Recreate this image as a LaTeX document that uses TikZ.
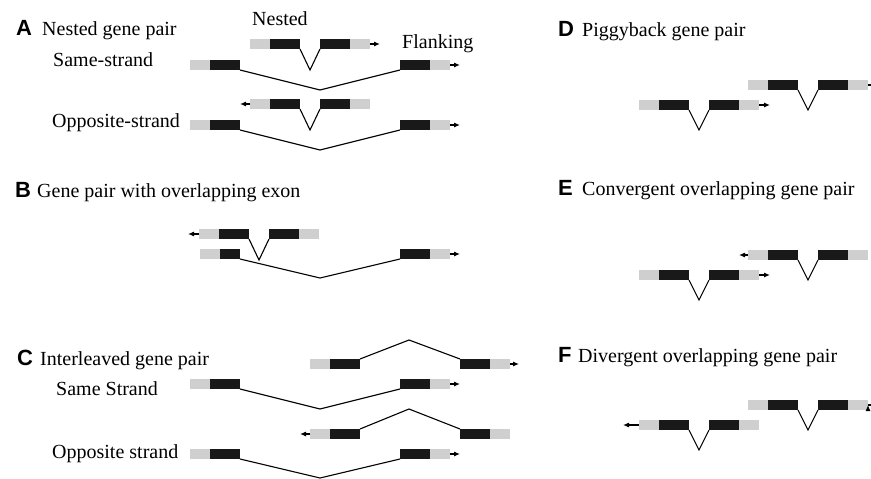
\documentclass[tikz,border=0pt]{standalone}
\usepackage{fontspec}
\setmainfont{Liberation Serif}
\setsansfont{Liberation Sans}
\usepackage{tikz}
\usetikzlibrary{positioning, arrows.meta}

\begin{document}
\begin{tikzpicture}[
        x=1pt, y=-1pt, % pixel grid, y pointing down
        % --- Gene parts ---
        exon/.style={fill=black!90, minimum width=30pt, minimum height=10pt,
            inner sep=0pt, outer sep=0pt, anchor=west},
        utr/.style={fill=gray!38, minimum width=20pt, minimum height=10pt,
            inner sep=0pt, outer sep=0pt, anchor=west},
        intron/.style={draw, line width=1.1pt},
        tss/.style={draw, line width=1.1pt, -{Latex[length=6pt, width=5pt]}},
        % --- Text ---
        title/.style={font=\fontsize{20}{24}\selectfont, anchor=base west, inner sep=0pt},
        letter/.style={font=\fontsize{22}{26}\selectfont\sffamily\bfseries, anchor=base west, inner sep=0pt}
    ]
    \path[use as bounding box] (0,0) rectangle (871,479);
    \clip (0,0) rectangle (871,479);

    % ==================== TITLES ====================
    \node[letter] (lA) at (16,35)  {A};
    \node[title]  (tA) at (42,35)  {Nested gene pair};
    \node[title]  (sA) at (53,66)  {Same-strand};
    \node[title]  (oA) at (52,127) {Opposite-strand};
    \node[title]  (nested)   at (252,25) {Nested};
    \node[title]  (flanking) at (402,48) {Flanking};

    \node[letter] (lB) at (15,197) {B};
    \node[title]  (tB) at (37,197) {Gene pair with overlapping exon};

    \node[letter] (lC) at (17,365) {C};
    \node[title]  (tC) at (40,365) {Interleaved gene pair};
    \node[title]  (sC) at (56,395) {Same Strand};
    \node[title]  (oC) at (52,458) {Opposite strand};

    \node[letter] (lD) at (558,36)  {D};
    \node[title]  (tD) at (582,36)  {Piggyback gene pair};
    \node[letter] (lE) at (558,195) {E};
    \node[title]  (tE) at (582,195) {Convergent overlapping gene pair};
    \node[letter] (lF) at (558,362) {F};
    \node[title]  (tF) at (578,362) {Divergent overlapping gene pair};

    % ==================== A. NESTED ====================
    \node[utr] (a1u1) at (250,44) {};  \node[exon, right=0pt of a1u1] (a1e1) {};
    \node[exon, right=20pt of a1e1] (a1e2) {};  \node[utr, right=0pt of a1e2] (a1u2) {};
    \node[utr] (a2u1) at (190,65) {};  \node[exon, right=0pt of a2u1] (a2e1) {};
    \node[exon, right=160pt of a2e1] (a2e2) {};  \node[utr, right=0pt of a2e2] (a2u2) {};
    \node[utr] (a3u1) at (250,104) {}; \node[exon, right=0pt of a3u1] (a3e1) {};
    \node[exon, right=20pt of a3e1] (a3e2) {};  \node[utr, right=0pt of a3e2] (a3u2) {};
    \node[utr] (a4u1) at (190,125) {}; \node[exon, right=0pt of a4u1] (a4e1) {};
    \node[exon, right=160pt of a4e1] (a4e2) {};  \node[utr, right=0pt of a4e2] (a4u2) {};

    % ==================== B. OVERLAPPING EXON ====================
    \node[utr] (b1u1) at (199,234) {}; \node[exon, right=0pt of b1u1] (b1e1) {};
    \node[exon, right=20pt of b1e1] (b1e2) {};  \node[utr, right=0pt of b1e2] (b1u2) {};
    \node[utr] (b2u1) at (200,254) {}; \node[exon, minimum width=20pt, right=0pt of b2u1] (b2e1) {};
    \node[exon, right=160pt of b2e1] (b2e2) {};  \node[utr, right=0pt of b2e2] (b2u2) {};

    % ==================== C. INTERLEAVED ====================
    \node[utr] (c1u1) at (310,364) {}; \node[exon, right=0pt of c1u1] (c1e1) {};
    \node[exon, right=100pt of c1e1] (c1e2) {}; \node[utr, right=0pt of c1e2] (c1u2) {};
    \node[utr] (c2u1) at (190,384) {}; \node[exon, right=0pt of c2u1] (c2e1) {};
    \node[exon, right=160pt of c2e1] (c2e2) {}; \node[utr, right=0pt of c2e2] (c2u2) {};
    \node[utr] (c3u1) at (310,434) {}; \node[exon, right=0pt of c3u1] (c3e1) {};
    \node[exon, right=100pt of c3e1] (c3e2) {}; \node[utr, right=0pt of c3e2] (c3u2) {};
    \node[utr] (c4u1) at (190,454) {}; \node[exon, right=0pt of c4u1] (c4e1) {};
    \node[exon, right=160pt of c4e1] (c4e2) {}; \node[utr, right=0pt of c4e2] (c4u2) {};

    % ==================== D, E, F ====================
    \node[utr] (d1u1) at (639,105) {}; \node[exon, right=0pt of d1u1] (d1e1) {};
    \node[exon, right=20pt of d1e1] (d1e2) {};  \node[utr, right=0pt of d1e2] (d1u2) {};
    \node[utr] (d2u1) at (748,85) {};  \node[exon, right=0pt of d2u1] (d2e1) {};
    \node[exon, right=20pt of d2e1] (d2e2) {};  \node[utr, right=0pt of d2e2] (d2u2) {};
    \node[utr] (e1u1) at (639,275) {}; \node[exon, right=0pt of e1u1] (e1e1) {};
    \node[exon, right=20pt of e1e1] (e1e2) {};  \node[utr, right=0pt of e1e2] (e1u2) {};
    \node[utr] (e2u1) at (748,255) {}; \node[exon, right=0pt of e2u1] (e2e1) {};
    \node[exon, right=20pt of e2e1] (e2e2) {};  \node[utr, right=0pt of e2e2] (e2u2) {};
    \node[utr] (f1u1) at (639,425) {}; \node[exon, right=0pt of f1u1] (f1e1) {};
    \node[exon, right=20pt of f1e1] (f1e2) {};  \node[utr, right=0pt of f1e2] (f1u2) {};
    \node[utr] (f2u1) at (748,405) {}; \node[exon, right=0pt of f2u1] (f2e1) {};
    \node[exon, right=20pt of f2e1] (f2e2) {};  \node[utr, right=0pt of f2e2] (f2u2) {};

    % Intron bends and arrow ends
    \coordinate (a1v) at (310,70);  \coordinate (a1t) at (380,44);
    \coordinate (a2v) at (320,90);  \coordinate (a2t) at (460,65);
    \coordinate (a3v) at (310,130); \coordinate (a3t) at (240,104);
    \coordinate (a4v) at (320,150); \coordinate (a4t) at (460,125);
    \coordinate (b1v) at (259,260); \coordinate (b1t) at (188,234);
    \coordinate (b2v) at (320,278); \coordinate (b2t) at (460,254);
    \coordinate (c1v) at (409,340); \coordinate (c1t) at (519,364);
    \coordinate (c2v) at (320,409); \coordinate (c2t) at (460,384);
    \coordinate (c3v) at (409,409); \coordinate (c3t) at (300,434);
    \coordinate (c4v) at (320,478); \coordinate (c4t) at (460,454);
    \coordinate (d1v) at (699,130); \coordinate (d1t) at (770,105);
    \coordinate (d2v) at (808,110); \coordinate (d2t) at (886,85);
    \coordinate (e1v) at (699,300); \coordinate (e1t) at (770,275);
    \coordinate (e2v) at (808,280); \coordinate (e2t) at (739,255);
    \coordinate (f1v) at (699,450); \coordinate (f1t) at (623,425);
    \coordinate (f2v) at (808,430); \coordinate (f2t) at (886,405);

    % Introns
    \draw[intron] (a1e1.south east) -- (a1v) -- (a1e2.south west);
    \draw[intron] (a2e1.south east) -- (a2v) -- (a2e2.south west);
    \draw[intron] (a3e1.south east) -- (a3v) -- (a3e2.south west);
    \draw[intron] (a4e1.south east) -- (a4v) -- (a4e2.south west);
    \draw[intron] (b1e1.south east) -- (b1v) -- (b1e2.south west);
    \draw[intron] (b2e1.south east) -- (b2v) -- (b2e2.south west);
    \draw[intron] (c1e1.north east) -- (c1v) -- (c1e2.north west);
    \draw[intron] (c2e1.south east) -- (c2v) -- (c2e2.south west);
    \draw[intron] (c3e1.north east) -- (c3v) -- (c3e2.north west);
    \draw[intron] (c4e1.south east) -- (c4v) -- (c4e2.south west);
    \draw[intron] (d1e1.south east) -- (d1v) -- (d1e2.south west);
    \draw[intron] (d2e1.south east) -- (d2v) -- (d2e2.south west);
    \draw[intron] (e1e1.south east) -- (e1v) -- (e1e2.south west);
    \draw[intron] (e2e1.south east) -- (e2v) -- (e2e2.south west);
    \draw[intron] (f1e1.south east) -- (f1v) -- (f1e2.south west);
    \draw[intron] (f2e1.south east) -- (f2v) -- (f2e2.south west);

    % Direction of transcription
    \path[tss]
        (a1u2.east) edge (a1t)  (a2u2.east) edge (a2t)
        (a3u1.west) edge (a3t)  (a4u2.east) edge (a4t)
        (b1u1.west) edge (b1t)  (b2u2.east) edge (b2t)
        (c1u2.east) edge (c1t)  (c2u2.east) edge (c2t)
        (c3u1.west) edge (c3t)  (c4u2.east) edge (c4t)
        (d1u2.east) edge (d1t)  (d2u2.east) edge (d2t)
        (e1u2.east) edge (e1t)  (e2u1.west) edge (e2t)
        (f1u1.west) edge (f1t)  (f2u2.east) edge (f2t);

\end{tikzpicture}
\end{document}
